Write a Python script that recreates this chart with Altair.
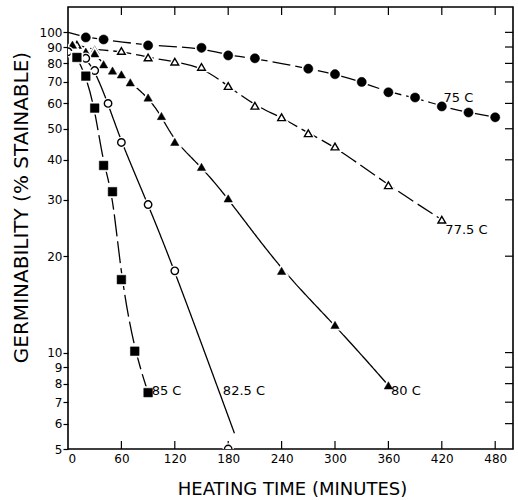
import altair as alt
import pandas as pd

# ---- data ----
T75 = [20, 40, 90, 150, 180, 210, 270, 300, 330, 360, 390, 420, 450, 480]
V75 = [96.4, 95, 91, 89.5, 84.7, 83, 77, 74, 70, 65, 62.6, 58.7, 56.2, 54.3]
LT75 = [0, 20, 40, 90, 150, 180, 210, 270, 300, 330, 360, 390, 420, 450, 480]
LV75 = [100, 96.4, 95, 91, 89.5, 84.7, 83, 77, 74, 70, 65, 62.6, 58.7, 56.2, 54.3]

T775 = [10, 30, 60, 90, 120, 150, 180, 210, 240, 270, 300, 360, 420]
V775 = [91.5, 88, 87.5, 83.5, 81, 78, 68, 59, 54.3, 48.4, 44, 33.3, 26]
LT775 = [0, 10, 30, 60, 90, 120, 150, 180, 210, 240, 270, 300, 360, 420]
LV775 = [92, 91.5, 88, 87.5, 83.5, 81, 78, 68, 59, 54.3, 48.4, 44, 33.3, 26]

T80 = [5, 20, 30, 40, 50, 60, 70, 90, 105, 120, 150, 180, 240, 300, 360]
V80 = [91.5, 87, 86, 79.5, 76, 73.9, 69.8, 62.6, 54.8, 45.5, 38, 30.3, 18, 12.2, 7.9]

T825 = [0, 20, 30, 45, 60, 90, 120, 180]
V825 = [87, 83, 76, 60, 45.3, 29, 18, 5]
LT825 = [0, 20, 30, 45, 60, 90, 120, 187]
LV825 = [87, 83, 76, 60, 45.3, 29, 18, 5.6]

T85 = [10, 20, 30, 40, 50, 60, 75, 90]
V85 = [83.5, 73, 58, 38.4, 31.8, 16.9, 10.1, 7.5]

LAB_TEXT = ["75 C", "77.5 C", "80 C", "82.5 C", "85 C"]
LAB_T = [422, 424, 363, 174, 94]
LAB_V = [62.6, 24.2, 7.6, 7.6, 7.6]

X_TICKS = [0, 60, 120, 180, 240, 300, 360, 420, 480]
Y_TICKS = [5, 6, 7, 8, 9, 10, 20, 30, 40, 50, 60, 70, 80, 90, 100]

W, H = 445, 442
FONT = "DejaVu Sans"
XT = "HEATING TIME (MINUTES)"
YT = "GERMINABILITY (% STAINABLE)"

xscale = alt.Scale(domain=[0, 500], nice=False, zero=False)
yscale = alt.Scale(type="log", domain=[5, 120], nice=False)

xaxis = alt.Axis(values=X_TICKS, ticks=False, domain=False, grid=False,
                 labelFont=FONT, labelFontSize=12, labelPadding=4, labelColor="black",
                 titleFont=FONT, titleFontSize=18, titleFontWeight="normal", titleColor="black",
                 titleX=224, titleY=40, titleBaseline="middle", titleAlign="center")
yaxis = alt.Axis(values=Y_TICKS, format="d", ticks=True, tickSize=5, tickColor="black",
                 tickWidth=1.2, domain=False, grid=False,
                 labelFont=FONT, labelFontSize=12, labelPadding=1, labelColor="black",
                 titleFont=FONT, titleFontSize=20, titleFontWeight="normal", titleColor="black",
                 titleX=-47, titleY=200, titleAngle=270, titleBaseline="middle", titleAlign="center")


def X():
    return alt.X("t:Q", scale=xscale, title=XT, axis=xaxis)


def Y():
    return alt.Y("v:Q", scale=yscale, title=YT, axis=yaxis)


def df(ts, vs):
    return pd.DataFrame({"t": ts, "v": vs})


layers = []

# inward ticks: bottom, top, right
xt = df(X_TICKS[1:], [10] * (len(X_TICKS) - 1))
yt = df([0] * (len(Y_TICKS) - 1), Y_TICKS[1:])
layers.append(alt.Chart(xt).mark_rule(color="black", strokeWidth=1.2).encode(
    x=X(), y=alt.value(H - 8), y2=alt.value(H)))
layers.append(alt.Chart(xt).mark_rule(color="black", strokeWidth=1.2).encode(
    x=X(), y=alt.value(0), y2=alt.value(8)))
layers.append(alt.Chart(yt).mark_rule(color="black", strokeWidth=1.2).encode(
    y=Y(), x=alt.value(W - 8), x2=alt.value(W)))

# curves (smooth fitted lines)
curves = [
    (LT75, LV75, [18, 5]),
    (LT775, LV775, [18, 5]),
    (T80, V80, [1, 0]),
    (LT825, LV825, [1, 0]),
    (T85, V85, [22, 5]),
]
for ts, vs, dash in curves:
    layers.append(alt.Chart(df(ts, vs)).mark_line(
        color="black", strokeWidth=1.3, strokeDash=dash, interpolate="basis", clip=True
    ).encode(x=X(), y=Y()))

# markers: (times, values, shape, filled, size)
markers = [
    (T75, V75, "circle", True, 85),
    (T775, V775, "triangle-up", False, 60),
    (T80, V80, "triangle-up", True, 70),
    (T825, V825, "circle", False, 55),
    (T85, V85, "square", True, 75),
]
for ts, vs, shape, filled, size in markers:
    d = df(ts, vs)
    layers.append(alt.Chart(d).mark_point(
        shape=shape, size=size, filled=True, fill="white", stroke="white",
        strokeWidth=4, opacity=1, clip=True
    ).encode(x=X(), y=Y()))
    if filled:
        layers.append(alt.Chart(d).mark_point(
            shape=shape, size=size, filled=True, fill="black", stroke="black",
            strokeWidth=0.5, opacity=1, clip=True
        ).encode(x=X(), y=Y()))
    else:
        layers.append(alt.Chart(d).mark_point(
            shape=shape, size=size, filled=False, fill="white", stroke="black",
            strokeWidth=1.4, opacity=1, clip=True
        ).encode(x=X(), y=Y()))

# curve labels
lab = pd.DataFrame({"t": LAB_T, "v": LAB_V, "txt": LAB_TEXT})
layers.append(alt.Chart(lab).mark_text(
    align="left", baseline="middle", font=FONT, fontSize=13, color="black"
).encode(x=X(), y=Y(), text="txt:N"))

chart = alt.layer(*layers).properties(
    width=W, height=H,
    autosize=alt.AutoSizeParams(type="none"),
    padding={"left": 68, "top": 7, "right": 5, "bottom": 51},
    background="white",
).configure_view(stroke="black", strokeWidth=1.6)

chart.save("out.html", embed_options={"renderer": "svg", "actions": False})
